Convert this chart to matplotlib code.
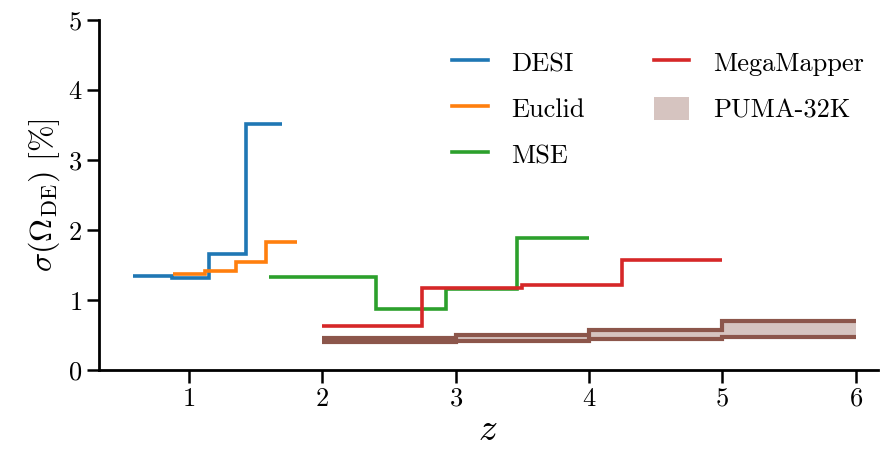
import matplotlib
matplotlib.use('Agg')
import matplotlib.pyplot as plt

plt.rcParams['font.family'] = 'serif'
plt.rcParams['font.serif'] = ['cmr10']
plt.rcParams['mathtext.fontset'] = 'cm'
plt.rcParams['axes.formatter.use_mathtext'] = True

# redshift bin edges and sigma(Omega_DE) in percent
desi_z = [0.58, 0.87, 1.15, 1.43, 1.70]
desi_s = [1.35, 1.32, 1.66, 3.52]

euclid_z = [0.88, 1.12, 1.35, 1.58, 1.81]
euclid_s = [1.37, 1.41, 1.55, 1.83]

mse_z = [1.6, 2.4, 2.93, 3.46, 4.0]
mse_s = [1.33, 0.87, 1.16, 1.89]

mm_z = [2.0, 2.75, 3.5, 4.25, 5.0]
mm_s = [0.63, 1.18, 1.22, 1.58]

puma_z = [2.0, 3.0, 4.0, 5.0, 6.0]
puma_lo = [0.40, 0.41, 0.44, 0.48]
puma_hi = [0.46, 0.50, 0.58, 0.70]

fig = plt.figure(figsize=(8.91, 4.57), dpi=100)
ax = fig.add_axes([0.111, 0.19, 0.874, 0.766])

lw = 2.6
ax.stairs(desi_s, desi_z, baseline=None, color='C0', lw=lw, label='DESI')
ax.stairs(euclid_s, euclid_z, baseline=None, color='C1', lw=lw, label='Euclid')
ax.stairs(mse_s, mse_z, baseline=None, color='C2', lw=lw, label='MSE')
ax.stairs(mm_s, mm_z, baseline=None, color='C3', lw=lw, label='MegaMapper')
ax.stairs(puma_hi, puma_z, baseline=puma_lo, fill=True, color='C5',
          alpha=0.35, lw=0, label='PUMA-32K')
ax.stairs(puma_hi, puma_z, baseline=None, color='C5', lw=lw + 0.4)
ax.stairs(puma_lo, puma_z, baseline=None, color='C5', lw=lw + 0.4)

ax.set_xlim(0.325, 6.165)
ax.set_ylim(0, 5)
ax.set_xticks([1, 2, 3, 4, 5, 6])
ax.set_yticks([0, 1, 2, 3, 4, 5])
ax.set_xlabel(r'$z$', fontsize=27, labelpad=2)
ax.set_ylabel(r'$\sigma(\Omega_{\rm DE})\ [\%]$', fontsize=23, labelpad=4)

for s in ['top', 'right']:
    ax.spines[s].set_visible(False)
for s in ['left', 'bottom']:
    ax.spines[s].set_linewidth(2)
ax.tick_params(labelsize=19, length=9, width=1.8, pad=3)

ax.legend(ncol=2, frameon=False, fontsize=19, loc='upper right',
          bbox_to_anchor=(1.006, 0.965), columnspacing=2.6, handlelength=1.35,
          handleheight=0.95, handletextpad=0.9, labelspacing=0.78,
          borderaxespad=0.3)

fig.savefig('out.png', dpi=100)
